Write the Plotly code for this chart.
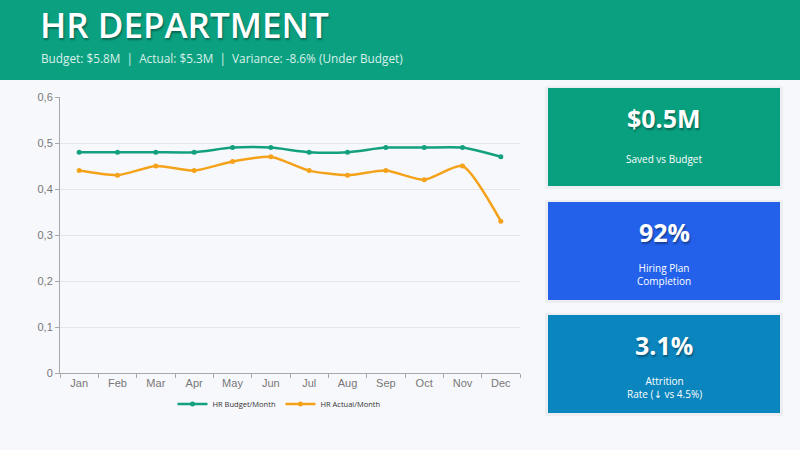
import plotly.graph_objects as go

months = ["Jan", "Feb", "Mar", "Apr", "May", "Jun", "Jul", "Aug", "Sep", "Oct", "Nov", "Dec"]
budget = [0.48, 0.48, 0.48, 0.48, 0.49, 0.49, 0.48, 0.48, 0.49, 0.49, 0.49, 0.47]
actual = [0.44, 0.43, 0.45, 0.44, 0.46, 0.47, 0.44, 0.43, 0.44, 0.42, 0.45, 0.33]
y_ticks = [0, 0.1, 0.2, 0.3, 0.4, 0.5, 0.6]
y_labels = ["0", "0,1", "0,2", "0,3", "0,4", "0,5", "0,6"]

title = "HR DEPARTMENT"
subtitle = "Budget: $5.8M  |  Actual: $5.3M  |  Variance: -8.6% (Under Budget)"
cards = [
    ("$0.5M", "Saved vs Budget", "#09A07F"),
    ("92%", "Hiring Plan<br>Completion", "#2361EA"),
    ("3.1%", "Attrition<br>Rate (<span style='font-family:DejaVu Sans'>↓</span> vs 4.5%)", "#0A85BD"),
]

W, H = 800, 450
BG = "#F7F8FC"
GREEN = "#12A07F"
ORANGE = "#F5A21B"

fig = go.Figure()
fig.add_trace(go.Scatter(
    x=months, y=budget, name="HR Budget/Month", mode="lines+markers",
    line=dict(color=GREEN, width=2.5, shape="spline", smoothing=0.6),
    marker=dict(size=5, color=GREEN)))
fig.add_trace(go.Scatter(
    x=months, y=actual, name="HR Actual/Month", mode="lines+markers",
    line=dict(color=ORANGE, width=2.5, shape="spline", smoothing=0.6),
    marker=dict(size=5, color=ORANGE)))

def px(x):
    return x / W

def py(y):
    return 1 - y / H

shapes = []
annotations = []
# header
shapes.append(dict(type="rect", xref="paper", yref="paper", x0=0, x1=1, y0=py(80), y1=1,
                   fillcolor="#0BA080", line=dict(width=0), layer="below"))
annotations.append(dict(xref="paper", yref="paper", x=px(38), y=py(24), xanchor="left", yanchor="middle",
                        text=title, showarrow=False,
                        font=dict(family="Open Sans", size=35, color="white", weight=600,
                                  shadow="1px 2px 2px rgba(0,0,0,0.35)")))
annotations.append(dict(xref="paper", yref="paper", x=px(39), y=py(58), xanchor="left", yanchor="middle",
                        text=subtitle, showarrow=False,
                        font=dict(family="Open Sans", size=11.8, color="#D9F1EA")))

card_tops = [88, 202, 315]
card_h = 98
for (val, lab, col), top in zip(cards, card_tops):
    shapes.append(dict(type="rect", xref="paper", yref="paper", x0=px(545), x1=px(783),
                       y0=py(top + card_h + 3), y1=py(top - 2),
                       fillcolor="rgba(0,0,0,0.04)", line=dict(width=0), layer="below"))
    shapes.append(dict(type="rect", xref="paper", yref="paper", x0=px(548), x1=px(780),
                       y0=py(top + card_h), y1=py(top),
                       fillcolor=col, line=dict(width=0), layer="below"))
    annotations.append(dict(xref="paper", yref="paper", x=px(664), y=py(top + 30),
                            xanchor="center", yanchor="middle", text="<b>" + val + "</b>", showarrow=False,
                            font=dict(family="Open Sans", size=25, color="white",
                                      shadow="1px 2px 2px rgba(0,0,0,0.35)")))
    nlines = lab.count("<br>") + 1
    cy = top + 71 if nlines == 1 else top + 72
    annotations.append(dict(xref="paper", yref="paper", x=px(664), y=py(cy),
                            xanchor="center", yanchor="middle", text=lab, showarrow=False,
                            font=dict(family="Open Sans", size=10, color="white")))

fig.update_layout(
    width=W, height=H,
    margin=dict(l=0, r=0, t=0, b=0, autoexpand=False),
    paper_bgcolor=BG, plot_bgcolor=BG,
    showlegend=True,
    legend=dict(orientation="h", x=px(279), y=py(404), xanchor="center", yanchor="middle",
                font=dict(family="Open Sans", size=7.5, color="#333"), bgcolor="rgba(0,0,0,0)",
                itemwidth=30),
    xaxis=dict(domain=[px(60), px(520)], range=[-0.5, 11.5], showgrid=False, showline=True,
               linecolor="#A8A8A8", ticks="outside", tickson="boundaries", ticklen=4,
               tickcolor="#A8A8A8", automargin=False,
               tickfont=dict(family="Liberation Sans", size=11, color="#777"), fixedrange=True),
    yaxis=dict(domain=[py(373), py(97)], range=[0, 0.6], tickvals=y_ticks, ticktext=y_labels,
               showgrid=True, gridcolor="#E4E6EC", showline=True, automargin=False,
               linecolor="#A8A8A8", ticks="outside", ticklen=4, tickcolor="#A8A8A8",
               tickfont=dict(family="Liberation Sans", size=11, color="#777"), zeroline=False),
    shapes=shapes, annotations=annotations,
)

fig.write_html(
    "out.html",
    config={"displayModeBar": False},
    post_script=("document.documentElement.style.margin='0';"
                 "document.body.style.margin='0';document.body.style.padding='0';"
                 "document.body.style.overflow='hidden';"
                 "var d=document.getElementById('{plot_id}');"
                 "d.style.position='fixed';d.style.top='0px';d.style.left='0px';"),
)
